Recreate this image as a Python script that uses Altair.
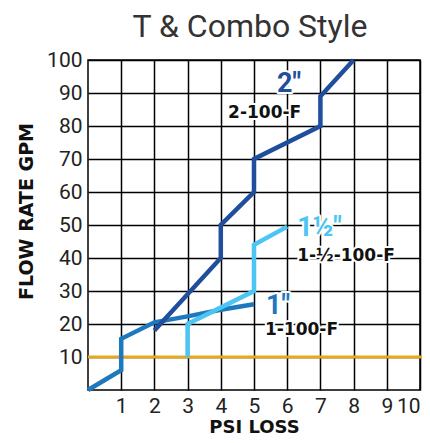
import altair as alt
import pandas as pd

# Series data (PSI loss vs flow rate)
x_1in = [0, 1, 1, 2, 3, 4, 5]
y_1in = [0, 6, 15.5, 20.5, 22.3, 24.3, 26]
x_15in = [3, 3, 5, 5, 6]
y_15in = [10, 20, 30, 44, 49.5]
x_2in = [2, 4, 4, 5, 5, 7, 7, 8]
y_2in = [18, 40, 50, 60, 70, 80, 89, 100]
ref_x = [0, 10.5]
ref_y = [10, 10]

x_ticks = [1, 2, 3, 4, 5, 6, 7, 8, 9, 10]
y_ticks = [10, 20, 30, 40, 50, 60, 70, 80, 90, 100]

big_text = ['2"', '1½"', '1"']
big_x = [5.69, 6.3, 5.36]
big_y = [90.3, 46.7, 23.0]
big_color = ["#1f4e9c", "#4cc5f2", "#1d78be"]

small_text = ["2-100-F", "1-½-100-F", "1-100-F"]
small_x = [4.22, 6.3, 5.33]
small_y = [82.3, 39.1, 16.7]

rows = []
for name, xs, ys in [("1", x_1in, y_1in), ("15", x_15in, y_15in), ("2", x_2in, y_2in)]:
    for i, (a, b) in enumerate(zip(xs, ys)):
        rows.append({"s": name, "x": a, "y": b, "i": i})
df = pd.DataFrame(rows)
ref = pd.DataFrame({"x": ref_x, "y": ref_y, "i": [0, 1]})
big = pd.DataFrame({"t": big_text, "x": big_x, "y": big_y, "c": big_color})
small = pd.DataFrame({"t": small_text, "x": small_x, "y": small_y})

xs = alt.Scale(domain=[0, 10], nice=False)
ys = alt.Scale(domain=[0, 100], nice=False)
X = alt.X("x:Q", scale=xs, axis=alt.Axis(values=x_ticks, title="PSI LOSS",
                                         titleBaseline="alphabetic", titleY=42,
                                         titleFontSize=18))
Y = alt.Y("y:Q", scale=ys, axis=alt.Axis(values=y_ticks, title="FLOW RATE GPM",
                                         titleBaseline="alphabetic", titleX=-56, titleY=151,
                                         titleAlign="center"))

refline = alt.Chart(ref).mark_line(color="#e5a823", strokeWidth=3, clip=False).encode(
    x=X, y=Y, order="i:Q")

lines = alt.Chart(df).mark_line(strokeWidth=4.5, strokeCap="butt", strokeJoin="miter").encode(
    x=X, y=Y, order="i:Q",
    color=alt.Color("s:N", scale=alt.Scale(domain=["1", "15", "2"],
                                           range=["#1d78be", "#4cc5f2", "#1f4e9c"]), legend=None),
)

big_halo = alt.Chart(big).mark_text(align="left", baseline="alphabetic", font="Roboto",
                                    fontWeight="bold", fontSize=27, stroke="white",
                                    strokeWidth=4, strokeJoin="round", color="white").encode(
    x=X, y=Y, text="t:N")
big_txt = alt.Chart(big).mark_text(align="left", baseline="alphabetic", font="Roboto",
                                   fontWeight="bold", fontSize=27).encode(
    x=X, y=Y, text="t:N", color=alt.Color("c:N", scale=None))
small_halo = alt.Chart(small).mark_text(align="left", baseline="alphabetic", font="DejaVu Sans",
                                        fontWeight="bold", fontSize=17, stroke="white",
                                        strokeWidth=4, strokeJoin="round", color="white").encode(
    x=X, y=Y, text="t:N")
small_txt = alt.Chart(small).mark_text(align="left", baseline="alphabetic", font="DejaVu Sans",
                                       fontWeight="bold", fontSize=17, color="#111111").encode(
    x=X, y=Y, text="t:N")

chart = alt.layer(refline, lines, big_halo, small_halo, big_txt, small_txt).properties(
    width=332, height=330,
    autosize=alt.AutoSizeParams(type="none"),
    padding={"left": 80, "top": 52, "right": 2, "bottom": 45},
    title=alt.TitleParams("T & Combo Style", font="Roboto", fontSize=32, fontWeight="normal",
                          color="#333333", anchor="middle", offset=5, dx=-4),
).configure_view(stroke="black", strokeWidth=1.5).configure_axis(
    grid=True, gridColor="black", gridWidth=1.5, gridOpacity=1,
    domain=False, ticks=False,
    labelFont="Roboto", labelFontSize=21, labelColor="#222222",
    titleFont="DejaVu Sans", titleFontWeight="bold", titleFontSize=19, titleColor="#111111",
).configure_axisY(labelPadding=6).configure_axisX(labelPadding=5)

chart.save("out.html", embed_options={"renderer": "svg", "actions": False})
